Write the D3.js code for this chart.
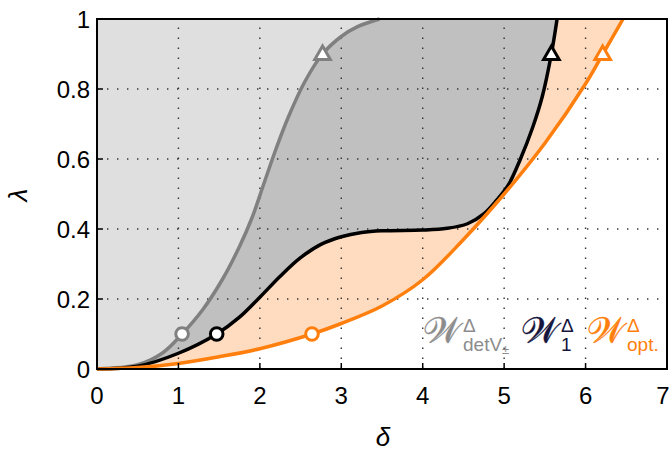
<!DOCTYPE html>
<html>
<head>
<meta charset="utf-8">
<script src="https://cdn.jsdelivr.net/npm/d3@7"></script>
<style>
  body { margin: 0; background: #fff; }
  text { font-family: "Liberation Sans", Arial, sans-serif; }
</style>
</head>
<body>
<svg width="671" height="452"></svg>
<script>
// curve samples: [delta, lambda]
var detVCurve = [[0, 0], [0.5, 0.012], [0.8, 0.045], [1.045, 0.1], [1.3, 0.17], [1.55, 0.26],
  [1.75, 0.35], [1.9, 0.43], [2.05, 0.53], [2.2, 0.63], [2.35, 0.72], [2.55, 0.82],
  [2.77, 0.9], [3.0, 0.95], [3.2, 0.978], [3.47, 1.0]];
var w1Curve = [[0, 0], [0.5, 0.008], [1.0, 0.045], [1.47, 0.1], [1.75, 0.148], [2.0, 0.205],
  [2.25, 0.265], [2.5, 0.318], [2.75, 0.356], [3.0, 0.378], [3.25, 0.39], [3.5, 0.395],
  [4.0, 0.397], [4.3, 0.402], [4.55, 0.415], [4.75, 0.443], [4.9, 0.48], [5.05, 0.525],
  [5.2, 0.6], [5.35, 0.69], [5.47, 0.78], [5.58, 0.9], [5.65, 1.0]];
var optCurve = [[0, 0], [0.5, 0.004], [1.0, 0.016], [1.5, 0.035], [2.0, 0.058], [2.64, 0.1],
  [3.0, 0.13], [3.5, 0.18], [4.0, 0.255], [4.5, 0.37], [5.0, 0.5], [5.5, 0.645],
  [6.0, 0.815], [6.2, 0.895], [6.46, 1.0]];

// marker positions (circle at lambda 0.1, triangle at lambda 0.9)
var circleMarks = [[1.045, 0.1], [1.47, 0.1], [2.64, 0.1]];
var triangleMarks = [[2.77, 0.9], [5.58, 0.9], [6.21, 0.9]];

var xTicks = [0, 1, 2, 3, 4, 5, 6, 7];
var yTicks = [0, 0.2, 0.4, 0.6, 0.8, 1];

var lineColors = ["#808080", "#000000", "#ff7f0e"];
var fillColors = ["#dfdfdf", "#c0c0c0", "#ffdcbf"];

var svg = d3.select("svg");

var x = d3.scaleLinear().domain([0, 7]).range([97, 667]);
var y = d3.scaleLinear().domain([0, 1]).range([369, 19]);

var line = d3.line()
  .x(function(d) { return x(d[0]); })
  .y(function(d) { return y(d[1]); })
  .curve(d3.curveCatmullRom.alpha(0.5));

// fill regions: everything above each curve, drawn from outer to inner
var curves = [detVCurve, w1Curve, optCurve];
[2, 1, 0].forEach(function(i) {
  svg.append("path")
    .attr("d", line(curves[i]) + "L" + x(0) + "," + y(1) + "Z")
    .attr("fill", fillColors[i]);
});

// dotted grid
var grid = svg.append("g")
  .attr("stroke", "#333")
  .attr("stroke-width", 1.4)
  .attr("stroke-dasharray", "1.4,8.6");
xTicks.slice(1, -1).forEach(function(t) {
  grid.append("line")
    .attr("x1", x(t)).attr("x2", x(t))
    .attr("y1", y(0)).attr("y2", y(1));
});
yTicks.slice(1, -1).forEach(function(t) {
  grid.append("line")
    .attr("x1", x(0)).attr("x2", x(7))
    .attr("y1", y(t)).attr("y2", y(t));
});

// curves
curves.forEach(function(c, i) {
  svg.append("path")
    .attr("d", line(c))
    .attr("fill", "none")
    .attr("stroke", lineColors[i])
    .attr("stroke-width", 3.5);
});

// markers
svg.selectAll("circle.mark")
  .data(circleMarks)
  .enter()
  .append("circle")
  .attr("class", "mark")
  .attr("cx", function(d) { return x(d[0]); })
  .attr("cy", function(d) { return y(d[1]); })
  .attr("r", 6.3)
  .attr("fill", "#fff")
  .attr("stroke", function(d, i) { return lineColors[i]; })
  .attr("stroke-width", 3);

var tri = d3.symbol().type(d3.symbolTriangle).size(105);
svg.selectAll("path.tri")
  .data(triangleMarks)
  .enter()
  .append("path")
  .attr("class", "tri")
  .attr("d", tri)
  .attr("transform", function(d) { return "translate(" + x(d[0]) + "," + (y(d[1]) + 1) + ")"; })
  .attr("fill", "#fff")
  .attr("stroke", function(d, i) { return lineColors[i]; })
  .attr("stroke-width", 3);

// frame
svg.append("rect")
  .attr("x", x(0)).attr("y", y(1))
  .attr("width", x(7) - x(0)).attr("height", y(0) - y(1))
  .attr("fill", "none")
  .attr("stroke", "#000")
  .attr("stroke-width", 2);

// ticks (inward) and labels
var axisG = svg.append("g").attr("stroke", "#000").attr("stroke-width", 1.5);
xTicks.forEach(function(t) {
  axisG.append("line").attr("x1", x(t)).attr("x2", x(t)).attr("y1", y(0)).attr("y2", y(0) - 6);
  svg.append("text")
    .attr("x", Math.min(x(t), 663)).attr("y", 404)
    .attr("text-anchor", "middle")
    .attr("font-size", 24)
    .text(t);
});
yTicks.forEach(function(t) {
  axisG.append("line").attr("x1", x(0)).attr("x2", x(0) + 6).attr("y1", y(t)).attr("y2", y(t));
  svg.append("text")
    .attr("x", 90).attr("y", y(t) + 8.5)
    .attr("text-anchor", "end")
    .attr("font-size", 24)
    .text(t == 0 || t == 1 ? t : t.toFixed(1));
});

// axis titles
svg.append("text")
  .attr("x", 383).attr("y", 446)
  .attr("text-anchor", "middle")
  .attr("font-size", 26)
  .attr("font-style", "italic")
  .text("δ");
svg.append("text")
  .attr("transform", "translate(27,195) rotate(-90)")
  .attr("text-anchor", "middle")
  .attr("font-size", 26)
  .attr("font-style", "italic")
  .text("λ");

// legend
var legend = [
  { x: 423, color: "#8c8c8c", sub: "detV", pm: true },
  { x: 521, color: "#14143c", sub: "1", pm: false },
  { x: 587, color: "#ff7f0e", sub: "opt.", pm: false }
];
legend.forEach(function(l) {
  svg.append("text")
    .attr("x", l.x).attr("y", 343)
    .attr("font-size", 36)
    .attr("font-family", "DejaVu Serif, serif")
    .attr("fill", l.color)
    .attr("stroke", l.color)
    .attr("stroke-width", 0.4)
    .text("𝒲");
  svg.append("text")
    .attr("x", l.x + 40).attr("y", 332)
    .attr("font-size", 19)
    .attr("fill", l.color)
    .text("Δ");
  var s = svg.append("text")
    .attr("x", l.x + 40).attr("y", 351)
    .attr("font-size", 19)
    .attr("fill", l.color)
    .text(l.sub);
  if (l.pm) {
    s.append("tspan").attr("font-size", 13).attr("dy", 3).text("±");
  }
});
</script>
</body>
</html>
